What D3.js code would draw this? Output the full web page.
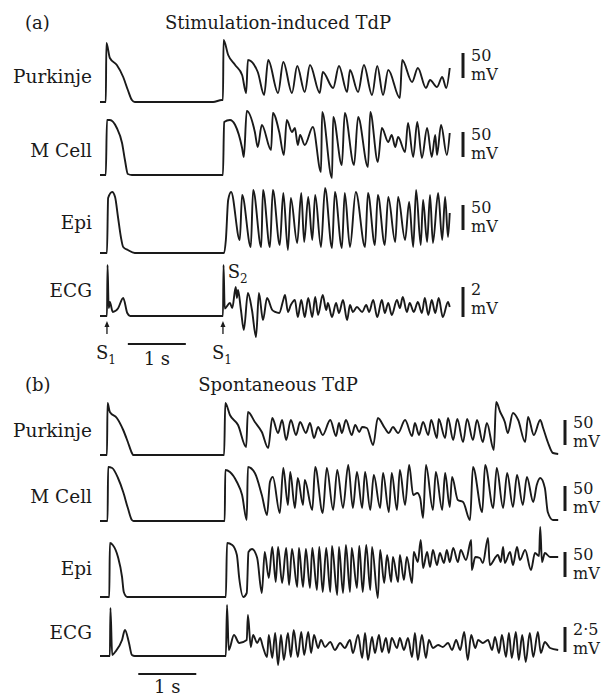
<!DOCTYPE html>
<html>
<head>
<meta charset="utf-8">
<script src="https://cdn.jsdelivr.net/npm/d3@7"></script>
<style>
  body { margin: 0; background: #fff; }
  text { font-family: "DejaVu Serif", "Liberation Serif", serif; fill: #1a1a1a; }
</style>
</head>
<body>
<div id="chart"></div>
<script>
// ---- data: [time (s), value] (mV for cells, mV for ECG) ----
const purkinjeA = [[0,-90],[0.10,-90],[0.11,28],[0.17,-2],[0.29,-16],[0.40,-40],[0.48,-66],[0.55,-86],[0.60,-90],[1.95,-90],[2.10,-86],[2.12,-86],[2.13,34],[2.21,4],[2.33,-16],[2.45,-36],[2.52,-72],[2.55,-6],[2.72,-30],[2.83,-76],[2.90,-6],[3.07,-72],[3.16,-10],[3.31,-72],[3.40,-18],[3.53,-70],[3.62,-16],[3.79,-72],[3.84,-30],[4.02,-62],[4.12,-18],[4.26,-70],[4.31,-26],[4.45,-70],[4.55,-16],[4.69,-76],[4.78,-18],[4.88,-76],[4.97,-26],[5.17,-82],[5.21,-6],[5.38,-50],[5.48,-22],[5.62,-62],[5.69,-46],[5.81,-60],[5.90,-40],[5.97,-62],[6.03,-22]];

const mCellA = [[0,-90],[0.10,-90],[0.12,20],[0.17,20],[0.29,4],[0.38,-26],[0.43,-60],[0.48,-88],[0.55,-90],[2.12,-90],[2.14,16],[2.24,20],[2.33,10],[2.45,-36],[2.48,-54],[2.53,38],[2.67,-4],[2.72,-34],[2.79,10],[2.95,-40],[2.98,34],[3.09,-4],[3.17,-50],[3.22,20],[3.31,-4],[3.36,4],[3.41,-30],[3.45,-10],[3.53,-30],[3.67,6],[3.81,-84],[3.83,36],[4.00,-96],[4.02,26],[4.17,-70],[4.22,34],[4.38,-70],[4.45,26],[4.62,-74],[4.66,36],[4.79,-64],[4.86,4],[4.97,-24],[5.03,-10],[5.09,-34],[5.14,-14],[5.26,-44],[5.31,14],[5.40,-54],[5.47,16],[5.55,-56],[5.64,4],[5.72,-54],[5.78,-10],[5.81,-50],[5.88,10],[5.98,-50],[6.03,-6]];

const epiA = [[0,-90],[0.12,-90],[0.14,20],[0.21,32],[0.26,22],[0.31,-18],[0.36,-58],[0.40,-78],[0.48,-84],[0.60,-90],[2.14,-90],[2.17,-64],[2.21,16],[2.26,32],[2.41,-64],[2.45,26],[2.60,-78],[2.64,36],[2.78,-78],[2.81,36],[2.93,-78],[2.98,36],[3.10,-74],[3.16,30],[3.24,-84],[3.29,20],[3.40,-70],[3.47,30],[3.52,-68],[3.59,22],[3.66,-64],[3.71,26],[3.81,-78],[3.88,40],[4.00,-80],[4.05,32],[4.17,-80],[4.22,30],[4.31,-78],[4.41,32],[4.57,-78],[4.62,30],[4.74,-74],[4.79,26],[4.91,-74],[4.97,22],[5.09,-68],[5.14,22],[5.26,-64],[5.33,12],[5.40,-78],[5.45,36],[5.53,-74],[5.57,16],[5.64,-68],[5.69,26],[5.74,-70],[5.83,30],[5.90,-64],[5.95,22],[6.00,-58],[6.03,-10]];

const ecgA = [[0,0],[0.12,0],[0.13,3.4],[0.15,0.53],[0.17,0.93],[0.22,0.27],[0.31,0.5],[0.40,1.2],[0.47,0.2],[0.52,0],[2.12,0],[2.13,3.4],[2.15,0.5],[2.24,0.87],[2.28,0.53],[2.34,1.93],[2.36,1.2],[2.38,1.73],[2.43,0.4],[2.48,-0.93],[2.55,1.53],[2.62,0.4],[2.69,-1.4],[2.74,1.53],[2.81,-0.27],[2.88,1.2],[2.97,0.4],[3.02,0.27],[3.09,0.2],[3.16,1.07],[3.19,1.4],[3.24,0.27],[3.29,0.73],[3.36,1.07],[3.41,-0.07],[3.47,1.07],[3.53,-0.07],[3.59,1.2],[3.66,-0.07],[3.71,1.27],[3.76,0.07],[3.84,1.4],[3.90,0.4],[3.93,0.87],[4.00,-0.07],[4.07,0.87],[4.12,0.2],[4.19,1.07],[4.26,-0.27],[4.31,0.73],[4.36,0.27],[4.43,0.6],[4.52,0.27],[4.59,0.73],[4.64,0.27],[4.71,1.07],[4.78,-0.07],[4.86,1.07],[4.91,0.2],[4.97,0.87],[5.03,0.07],[5.12,1.07],[5.17,0.53],[5.22,1.27],[5.29,0.27],[5.34,0.87],[5.41,0.27],[5.48,0.93],[5.55,0.2],[5.60,1.2],[5.66,0.07],[5.72,1.07],[5.78,0.2],[5.84,1.2],[5.91,-0.07],[6.00,0.93],[6.03,0.6]];

const purkinjeB = [[0,-90],[0.12,-90],[0.13,14],[0.17,-4],[0.29,-16],[0.40,-40],[0.48,-64],[0.55,-86],[0.57,-90],[2.14,-90],[2.16,14],[2.24,-10],[2.38,-30],[2.52,-74],[2.55,-4],[2.67,-24],[2.79,-44],[2.90,-76],[2.97,-16],[3.07,-46],[3.14,-20],[3.21,-60],[3.29,-20],[3.38,-50],[3.45,-24],[3.55,-46],[3.62,-26],[3.69,-56],[3.76,-34],[3.84,-50],[3.97,-20],[4.07,-52],[4.12,-26],[4.17,-46],[4.24,-20],[4.34,-50],[4.40,-30],[4.47,-44],[4.52,-34],[4.60,-36],[4.71,-70],[4.79,-16],[4.91,-36],[4.98,-46],[5.05,-34],[5.14,-46],[5.26,-20],[5.38,-52],[5.43,-26],[5.50,-50],[5.57,-24],[5.66,-50],[5.71,-20],[5.81,-56],[5.84,-18],[5.95,-56],[6.00,-16],[6.09,-60],[6.16,-18],[6.26,-64],[6.33,-18],[6.43,-60],[6.50,-20],[6.60,-64],[6.67,-26],[6.79,-80],[6.83,16],[6.90,-4],[6.98,-24],[7.03,-46],[7.12,-6],[7.21,-20],[7.33,-64],[7.38,-14],[7.48,-50],[7.59,-20],[7.64,-36],[7.72,-64],[7.81,-86],[7.90,-88]];

const mCellB = [[0,-90],[0.13,-90],[0.14,18],[0.21,16],[0.31,-4],[0.40,-32],[0.48,-64],[0.55,-88],[0.58,-90],[2.15,-90],[2.16,12],[2.24,8],[2.36,-12],[2.45,-38],[2.53,-88],[2.55,18],[2.67,6],[2.79,-38],[2.88,-78],[2.93,-12],[2.98,-2],[3.10,-74],[3.16,16],[3.24,-58],[3.28,8],[3.36,-64],[3.41,-4],[3.50,-58],[3.53,-8],[3.66,-68],[3.71,18],[3.84,-74],[3.91,16],[4.02,-68],[4.09,12],[4.19,-64],[4.28,22],[4.36,-64],[4.43,8],[4.52,-64],[4.57,8],[4.66,-68],[4.72,2],[4.83,-64],[4.88,6],[4.98,-72],[5.03,6],[5.12,-68],[5.17,12],[5.26,-58],[5.33,22],[5.40,-38],[5.47,-34],[5.52,-44],[5.57,-84],[5.62,22],[5.74,-68],[5.79,8],[5.90,-68],[5.95,6],[6.03,-62],[6.07,-2],[6.17,-48],[6.26,-52],[6.38,-88],[6.43,18],[6.59,-72],[6.64,22],[6.78,-64],[6.84,16],[6.95,-64],[7.02,6],[7.12,-62],[7.19,2],[7.29,-58],[7.36,-2],[7.47,-52],[7.53,-18],[7.59,-4],[7.67,-24],[7.72,-72],[7.81,-88],[7.90,-88]];

const epiB = [[0,-90],[0.16,-90],[0.17,18],[0.22,14],[0.31,-10],[0.38,-50],[0.41,-80],[0.47,-90],[2.17,-90],[2.19,18],[2.28,14],[2.36,-6],[2.40,-52],[2.47,-90],[2.53,-82],[2.56,0],[2.62,6],[2.71,-12],[2.79,-82],[2.84,0],[2.91,-52],[2.97,10],[3.03,-60],[3.07,10],[3.14,-62],[3.21,8],[3.26,-66],[3.31,6],[3.40,-70],[3.43,8],[3.50,-70],[3.55,6],[3.62,-72],[3.66,8],[3.74,-76],[3.78,10],[3.84,-80],[3.90,8],[3.97,-80],[4.00,12],[4.09,-86],[4.12,10],[4.19,-82],[4.24,14],[4.31,-80],[4.34,8],[4.43,-72],[4.47,12],[4.53,-80],[4.59,14],[4.66,-76],[4.69,10],[4.79,-92],[4.83,4],[4.90,-62],[4.95,-6],[5.02,-60],[5.05,-10],[5.14,-60],[5.17,-6],[5.24,-56],[5.29,-10],[5.38,-62],[5.41,0],[5.48,-20],[5.53,24],[5.57,-32],[5.64,0],[5.69,-30],[5.74,4],[5.81,-26],[5.86,-2],[5.93,-22],[5.98,4],[6.03,-20],[6.09,8],[6.17,-20],[6.22,4],[6.31,-16],[6.40,24],[6.41,-36],[6.47,-10],[6.55,-12],[6.60,-22],[6.69,28],[6.72,-26],[6.86,-6],[6.91,-20],[6.95,10],[6.98,-22],[7.07,0],[7.12,-26],[7.19,10],[7.24,-16],[7.33,4],[7.43,-36],[7.50,-2],[7.57,-8],[7.59,50],[7.62,-20],[7.67,-2],[7.76,-10],[7.90,-10]];

const ecgB = [[0,0],[0.17,0],[0.18,4.8],[0.21,0.1],[0.26,0.4],[0.38,1.6],[0.43,2.6],[0.50,1.3],[0.55,0.1],[0.60,0],[2.17,0],[2.19,5.1],[2.22,0.6],[2.31,2.1],[2.40,1.3],[2.53,1.6],[2.55,4.1],[2.60,0.9],[2.64,2.1],[2.71,1.3],[2.76,1.8],[2.81,0.9],[2.88,-0.1],[2.91,2.1],[2.97,-0.2],[3.02,2.3],[3.07,-0.9],[3.12,2.1],[3.17,-0.4],[3.24,2.3],[3.29,-0.1],[3.34,2.6],[3.41,-0.1],[3.47,2.4],[3.52,0.1],[3.59,2.4],[3.64,0.3],[3.69,2.1],[3.76,0.8],[3.81,1.6],[3.88,0.9],[3.97,1.4],[4.05,0.6],[4.14,1.3],[4.22,0.8],[4.31,1.6],[4.36,0.3],[4.45,2.1],[4.52,-0.2],[4.57,2.3],[4.62,-0.4],[4.69,1.9],[4.74,0.3],[4.81,2.1],[4.86,0.4],[4.93,1.8],[4.98,0.3],[5.03,1.8],[5.12,0.8],[5.17,1.8],[5.24,0.6],[5.31,1.8],[5.38,-0.1],[5.43,2.3],[5.48,-0.4],[5.55,2.1],[5.62,-0.2],[5.67,1.6],[5.74,0.8],[5.83,1.1],[5.91,0.9],[6.00,1.3],[6.07,0.6],[6.14,1.6],[6.21,0.6],[6.28,2.4],[6.34,-0.4],[6.40,2.1],[6.47,0.8],[6.52,1.6],[6.60,1.3],[6.69,1.6],[6.76,0.6],[6.81,1.9],[6.88,0.3],[6.93,2.1],[7.00,-0.1],[7.05,2.3],[7.10,-0.2],[7.17,2.4],[7.22,-0.4],[7.28,2.1],[7.34,-0.6],[7.41,2.3],[7.47,-0.1],[7.55,2.4],[7.60,0.3],[7.67,1.4],[7.76,0.8],[7.90,0.6]];

const rowLabels = ['Purkinje', 'M Cell', 'Epi', 'ECG'];
const titlesA = ['(a)', 'Stimulation-induced TdP'];
const titlesB = ['(b)', 'Spontaneous TdP'];
const barTextA = ['50', '50', '50', '2'];
const barTextB = ['50', '50', '50', '2·5'];
const barValA = [50, 50, 50, 2];
const barValB = [50, 50, 50, 2.5];
const stimTimesA = [0.12, 2.12];   // S1 stimuli
const s2TimeA = 2.22;

// ---- layout ----
const W = 608, H = 699;
const svg = d3.select('#chart').append('svg').attr('width', W).attr('height', H);

const x = d3.scaleLinear().domain([0, 8]).range([100, 564]);   // 58 px per second

// restY: pixel of the reference value (rest -90 mV or ECG 0), k: px per unit
const rowsA = [
  { data: purkinjeA, ref: -90, restY: 102, k: 0.5, labelY: 83,  barTop: 53 },
  { data: mCellA,    ref: -90, restY: 175, k: 0.5, labelY: 157, barTop: 132 },
  { data: epiA,      ref: -90, restY: 253, k: 0.5, labelY: 229, barTop: 205 },
  { data: ecgA,      ref: 0,   restY: 316, k: 15,  labelY: 297, barTop: 287 }
];
const rowsB = [
  { data: purkinjeB, ref: -90, restY: 455, k: 0.5, labelY: 437, barTop: 420 },
  { data: mCellB,    ref: -90, restY: 521, k: 0.5, labelY: 503, barTop: 486 },
  { data: epiB,      ref: -90, restY: 597, k: 0.5, labelY: 575, barTop: 552 },
  { data: ecgB,      ref: 0,   restY: 656, k: 10,  labelY: 639, barTop: 627 }
];

function drawPanel(rows, titles, barText, barVal, barX, titleY) {
  svg.append('text').attr('x', 25).attr('y', titleY).style('font-size', '18px').text(titles[0]);
  svg.append('text').attr('x', 278).attr('y', titleY).attr('text-anchor', 'middle')
    .style('font-size', '18px').text(titles[1]);

  rows.forEach((r, i) => {
    const y = d3.scaleLinear().domain([r.ref, r.ref + 10]).range([r.restY, r.restY - 10 * r.k]);
    const line = d3.line().x(d => x(d[0])).y(d => y(d[1])).curve(d3.curveMonotoneX);

    svg.append('path')
      .datum(r.data)
      .attr('d', line)
      .attr('fill', 'none')
      .attr('stroke', '#1a1a1a')
      .attr('stroke-width', 1.9)
      .attr('stroke-linejoin', 'round');

    svg.append('text')
      .attr('x', 92).attr('y', r.labelY)
      .attr('text-anchor', 'end')
      .style('font-size', '18.5px')
      .text(rowLabels[i]);

    // calibration bar
    const len = Math.abs(y(r.ref + barVal[i]) - y(r.ref));
    svg.append('line')
      .attr('x1', barX).attr('x2', barX)
      .attr('y1', r.barTop).attr('y2', r.barTop + len)
      .attr('stroke', '#1a1a1a').attr('stroke-width', 3);
    svg.append('text').attr('x', barX + 8).attr('y', r.barTop + 8)
      .style('font-size', '16px').text(barText[i]);
    svg.append('text').attr('x', barX + 8).attr('y', r.barTop + 27)
      .style('font-size', '16px').text('mV');
  });
}

drawPanel(rowsA, titlesA, barTextA, barValA, 463, 29);
drawPanel(rowsB, titlesB, barTextB, barValB, 565, 391);

// stimulus arrows and S1 / S2 labels in (a)
stimTimesA.forEach(t => {
  svg.append('line')
    .attr('x1', x(t)).attr('x2', x(t)).attr('y1', 325).attr('y2', 334)
    .attr('stroke', '#1a1a1a').attr('stroke-width', 1.3);
  svg.append('path')
    .attr('d', `M${x(t) - 2.5},${327} L${x(t)},${321} L${x(t) + 2.5},${327} Z`)
    .attr('fill', '#1a1a1a');
  const s = svg.append('text').attr('x', x(t) - 1).attr('y', 359)
    .attr('text-anchor', 'middle').style('font-size', '18px');
  s.append('tspan').text('S');
  s.append('tspan').attr('dy', 5).style('font-size', '12px').text('1');
});
const s2 = svg.append('text').attr('x', x(s2TimeA) - 1).attr('y', 278).style('font-size', '18px');
s2.append('tspan').text('S');
s2.append('tspan').attr('dy', 5).style('font-size', '12px').text('2');

// 1 s time bars
function timeBar(t0, yBar, yText) {
  svg.append('line')
    .attr('x1', x(t0)).attr('x2', x(t0 + 1))
    .attr('y1', yBar).attr('y2', yBar)
    .attr('stroke', '#1a1a1a').attr('stroke-width', 2);
  svg.append('text')
    .attr('x', (x(t0) + x(t0 + 1)) / 2).attr('y', yText)
    .attr('text-anchor', 'middle').style('font-size', '18px')
    .text('1 s');
}
timeBar(0.48, 344, 365);
timeBar(0.66, 674, 693);
</script>
</body>
</html>
